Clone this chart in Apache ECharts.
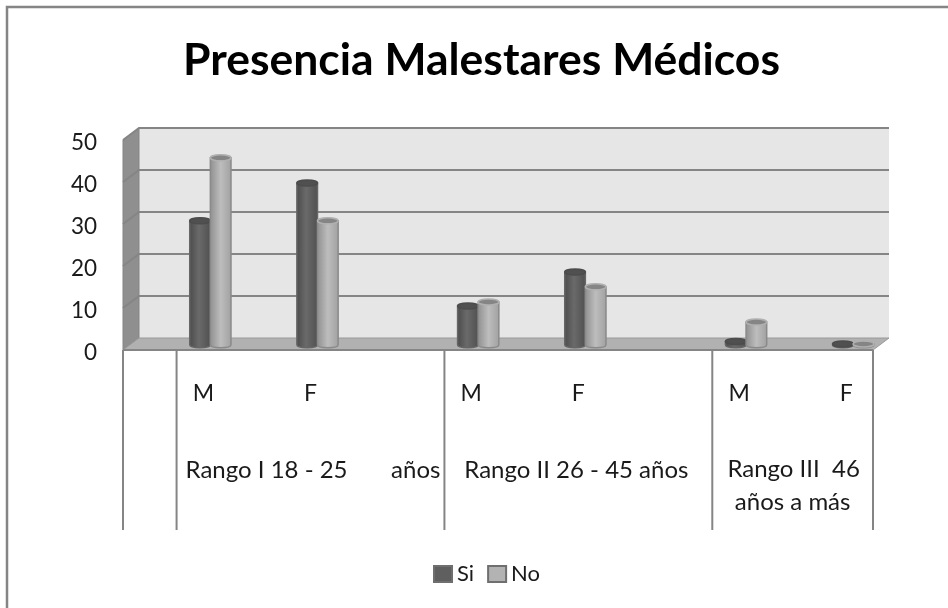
<!DOCTYPE html>
<html><head><meta charset="utf-8">
<style>html,body{margin:0;padding:0;background:#fff}#c{width:948px;height:608px}</style>
<script src="https://cdn.jsdelivr.net/npm/echarts@6/dist/echarts.min.js"></script>
</head><body><div id="c"></div>
<script>
const titleText = 'Presencia Malestares Médicos';
const categories = ['', 'M', '', 'F', '', '', 'M', '', 'F', '', '', 'M', '', 'F'];
const siValues = [null, 29.5, null, 38.5, null, null, 9.2, null, 17.3, null, null, 0.8, null, 0.2];
const noValues = [null, 44.5, null, 29.5, null, null, 10.2, null, 13.8, null, null, 5.4, null, 0.2];
const yTicks = [0, 10, 20, 30, 40, 50];
const groupDividers = [0, 1, 6, 11, 14];

const DX = 16, DY = -12, BX = 7, BY = -5.25, RY = 3;
const LINE = '#858585', FONT = 'Lato';

function text(x, y, s, align) {
  return {type: 'text', silent: true, style: {x, y, text: s, fill: '#1a1a1a', font: '24px ' + FONT,
    align: align || 'center', verticalAlign: 'middle'}};
}
function renderDecor(params, api) {
  const y0 = api.coord([0, 0])[1], y50 = api.coord([0, 50])[1];
  const slot = api.size([1, 0])[0];
  const xL = api.coord([0, 0])[0] - slot / 2, xR = xL + slot * 14;
  const c = [];
  c.push({type: 'polygon', shape: {points: [[xL + DX, y50 + DY], [xR + DX, y50 + DY], [xR + DX, y0 + DY], [xL + DX, y0 + DY]]}, style: {fill: '#e6e6e6'}});
  c.push({type: 'polygon', shape: {points: [[xL, y50], [xL + DX, y50 + DY], [xL + DX, y0 + DY], [xL, y0]]}, style: {fill: '#8f8f8f', stroke: LINE, lineWidth: 1}});
  c.push({type: 'polygon', shape: {points: [[xL, y0], [xL + DX, y0 + DY], [xR + DX, y0 + DY], [xR, y0]]}, style: {fill: '#b1b1b1', stroke: '#9a9a9a', lineWidth: 1}});
  yTicks.forEach(v => {
    const y = api.coord([0, v])[1];
    if (v > 0) {
      c.push({type: 'polyline', shape: {points: [[xL, y], [xL + DX, y + DY], [xR + DX, y + DY]]}, style: {fill: 'none', stroke: LINE, lineWidth: 2}});
    }
  });
  c.push({type: 'line', shape: {x1: xL, y1: y0, x2: xR, y2: y0}, style: {stroke: LINE, lineWidth: 2}});
  groupDividers.forEach(i => {
    const x = xL + slot * i;
    c.push({type: 'line', shape: {x1: x, y1: y0, x2: x, y2: y0 + 180}, style: {stroke: LINE, lineWidth: 2}});
  });
  const ty = y0 + 120;
  c.push(text(xL + slot * 1 + 9, ty, 'Rango I 18 - 25', 'left'));
  c.push(text(xL + slot * 6 - 4, ty, 'años', 'right'));
  c.push(text(xL + slot * 8.5 - 2, ty, 'Rango II 26 - 45 años'));
  c.push(text(xL + slot * 12.5 + 1, ty - 1, 'Rango III  46'));
  c.push(text(xL + slot * 12.5, ty + 32, 'años a más'));
  return {type: 'group', children: c};
}
function cylinder(params, api, shift, side, stroke, topFill, topStroke) {
  const idx = api.value(0), v = api.value(1);
  const base = api.coord([idx, 0]), top = api.coord([idx, v]);
  const w = api.size([1, 0])[0] * 0.385;
  const cx = base[0] + BX + shift * w;
  const by = base[1] + BY, ty = top[1] + BY;
  const l = cx - w / 2, r = cx + w / 2;
  const K = 1.33 * RY;
  const path = `M${l} ${ty}L${l} ${by}C${l} ${by + K} ${r} ${by + K} ${r} ${by}L${r} ${ty}Z`;
  return {type: 'group', children: [
    {type: 'path', shape: {pathData: path, layout: 'cover', x: l, y: ty, width: w, height: by - ty + RY}, style: {
      fill: {type: 'linear', x: 0, y: 0, x2: 1, y2: 0, colorStops: side}, stroke, lineWidth: 1.5}},
    {type: 'ellipse', shape: {cx, cy: ty, rx: w / 2, ry: RY}, style: {fill: topFill, stroke: topStroke, lineWidth: 1.5}}
  ]};
}
const siSide = [{offset: 0, color: '#4a4a4a'}, {offset: 0.45, color: '#6a6a6a'}, {offset: 1, color: '#4f4f4f'}];
const noSide = [{offset: 0, color: '#8e8e8e'}, {offset: 0.5, color: '#bdbdbd'}, {offset: 1, color: '#a0a0a0'}];

const option = {
  animation: false,
  backgroundColor: '#fff',
  title: {text: titleText, left: 178, top: 33, textStyle: {fontFamily: FONT, fontWeight: 'bold', fontSize: 44.5, color: '#000'}},
  grid: {left: 123, right: 75, top: 140, bottom: 258, containLabel: false},
  xAxis: {type: 'category', data: categories, axisLine: {show: false}, axisTick: {show: false},
    axisLabel: {interval: 0, margin: 32, fontFamily: FONT, fontSize: 23, color: '#1a1a1a'}},
  yAxis: {type: 'value', min: 0, max: 50, interval: 10, axisLine: {show: false}, axisTick: {show: false}, splitLine: {show: false},
    axisLabel: {margin: 26, formatter: '{t|{value}}', rich: {t: {fontFamily: FONT, fontSize: 22.5, color: '#1a1a1a', padding: [6, 0, 0, 0]}}}},
  legend: {left: 428, top: 558, icon: 'rect', itemWidth: 18, itemHeight: 16, itemGap: 13, data: ['Si', 'No'],
    textStyle: {fontFamily: FONT, fontSize: 22, color: '#1a1a1a'}},
  graphic: [{type: 'polyline', shape: {points: [[7, 608], [7, 7], [948, 7]]}, style: {fill: 'none', stroke: '#858585', lineWidth: 2.5}, silent: true, z: 0}],
  series: [
    {type: 'custom', name: 'wall', silent: true, z: 1, data: [[0, 0]], encode: {x: 0, y: 1}, renderItem: renderDecor, clip: false},
    {type: 'custom', name: 'Si', z: 2, clip: false, itemStyle: {color: '#5f5f5f', borderColor: '#6f6f6f', borderWidth: 2},
      data: categories.map((c, i) => [i, siValues[i]]).filter(d => d[1] !== null), encode: {x: 0, y: 1},
      renderItem: (p, a) => cylinder(p, a, -0.5, siSide, '#666', '#505050', '#4c4c4c')},
    {type: 'custom', name: 'No', z: 3, clip: false, itemStyle: {color: '#b3b3b3', borderColor: '#6f6f6f', borderWidth: 2},
      data: categories.map((c, i) => [i, noValues[i]]).filter(d => d[1] !== null), encode: {x: 0, y: 1},
      renderItem: (p, a) => cylinder(p, a, 0.5, noSide, '#8a8a8a', '#858585', '#b0b0b0')}
  ]
};
echarts.init(document.getElementById('c')).setOption(option);
</script></body></html>
